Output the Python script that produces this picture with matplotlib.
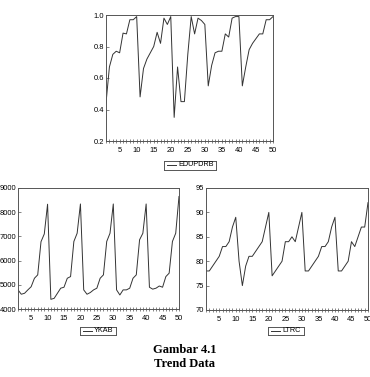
import matplotlib
matplotlib.use("Agg")
import matplotlib.pyplot as plt
from matplotlib.ticker import MultipleLocator, FixedLocator

obs = list(range(1, 51))

edupdrb = [0.44, 0.67, 0.75, 0.77, 0.76, 0.885, 0.88, 0.97, 0.97, 0.99,
           0.48, 0.66, 0.72, 0.76, 0.80, 0.89, 0.82, 0.98, 0.94, 0.99,
           0.35, 0.67, 0.45, 0.45, 0.75, 0.99, 0.88, 0.98, 0.965, 0.94,
           0.55, 0.68, 0.76, 0.77, 0.77, 0.88, 0.86, 0.98, 0.99, 0.99,
           0.55, 0.67, 0.78, 0.82, 0.85, 0.88, 0.88, 0.97, 0.97, 0.99]

ykab = [4790, 4610, 4650, 4790, 4920, 5270, 5410, 6780, 7100, 8330,
        4400, 4440, 4650, 4860, 4900, 5270, 5340, 6790, 7130, 8340,
        4790, 4610, 4680, 4790, 4860, 5270, 5410, 6790, 7130, 8340,
        4790, 4580, 4790, 4790, 4860, 5270, 5410, 6860, 7130, 8340,
        4900, 4820, 4860, 4950, 4900, 5340, 5480, 6790, 7130, 8650]

ltrc = [78, 78, 79, 80, 81, 83, 83, 84, 87, 89,
        80, 75, 79, 81, 81, 82, 83, 84, 87, 90,
        77, 78, 79, 80, 84, 84, 85, 84, 87, 90,
        78, 78, 79, 80, 81, 83, 83, 84, 87, 89,
        78, 78, 79, 80, 84, 83, 85, 87, 87, 92]

W, H = 370, 377
fig = plt.figure(figsize=(W / 100, H / 100), dpi=100)

LINE = "#333333"
FRAME = "#555555"
TICKFONT = dict(family="Liberation Sans", size=5.4)


def px_axes(l, t, r, b):
    return fig.add_axes([l / W, 1 - b / H, (r - l) / W, (b - t) / H])


def style(ax, ylim, ymajor, fmt):
    ax.set_xlim(1, 50)
    ax.set_ylim(*ylim)
    ax.xaxis.set_major_locator(FixedLocator(range(5, 51, 5)))
    ax.xaxis.set_minor_locator(MultipleLocator(1))
    ax.yaxis.set_major_locator(MultipleLocator(ymajor))
    ax.yaxis.set_major_formatter(fmt)
    ax.tick_params(axis="both", which="both", color=FRAME, width=0.5, pad=1.2)
    ax.tick_params(axis="x", which="major", direction="inout", length=3.5, pad=2.5)
    ax.tick_params(axis="x", which="minor", direction="inout", length=2.5)
    ax.tick_params(axis="y", which="major", direction="in", length=2.5)
    for lab in ax.get_xticklabels() + ax.get_yticklabels():
        lab.set_fontfamily(TICKFONT["family"])
        lab.set_fontsize(TICKFONT["size"])
    for s in ax.spines.values():
        s.set_linewidth(0.7)
        s.set_color(FRAME)


def legend_box(cx, cy, w, h, label):
    bx = fig.add_axes([(cx - w / 2) / W, 1 - (cy + h / 2) / H, w / W, h / H])
    bx.set_xlim(0, w)
    bx.set_ylim(0, h)
    bx.set_xticks([])
    bx.set_yticks([])
    for s in bx.spines.values():
        s.set_linewidth(0.7)
        s.set_color(FRAME)
    bx.plot([3, 12], [h / 2, h / 2], color=LINE, lw=0.7)
    bx.text(14, h / 2, label, va="center", ha="left",
            fontfamily="Liberation Sans", fontsize=5.2)


# Top chart
ax1 = px_axes(106, 15, 273, 141)
ax1.plot(obs, edupdrb, color=LINE, lw=0.7)
style(ax1, (0.2, 1.0), 0.2, "{x:.1f}")
legend_box(190, 165, 52, 9, "EDUPDRB")

# Bottom left
ax2 = px_axes(18, 188, 179, 309)
ax2.plot(obs, ykab, color=LINE, lw=0.7)
style(ax2, (4000, 9000), 1000, "{x:.0f}")
legend_box(98, 331, 36, 8, "YKAB")

# Bottom right
ax3 = px_axes(206, 188, 368, 310)
ax3.plot(obs, ltrc, color=LINE, lw=0.7)
style(ax3, (70, 95), 5, "{x:.0f}")
legend_box(286, 331, 36, 8, "LTRC")

fig.text(185 / W, 1 - 350 / H, "Gambar 4.1", ha="center", va="center",
         fontfamily="Liberation Serif", fontweight="bold", fontsize=9)
fig.text(185 / W, 1 - 364 / H, "Trend Data", ha="center", va="center",
         fontfamily="Liberation Serif", fontweight="bold", fontsize=9)

fig.savefig("out.png", dpi=100)
